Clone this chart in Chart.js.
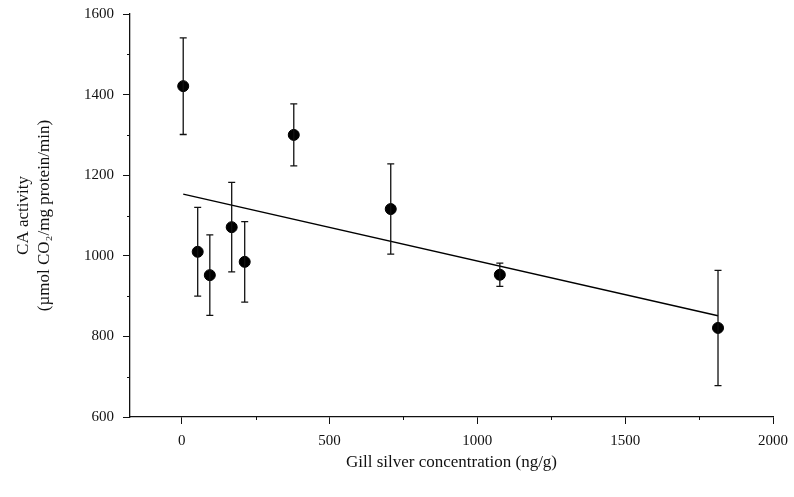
<!DOCTYPE html>
<html>
<head>
<meta charset="utf-8">
<script src="https://cdn.jsdelivr.net/npm/chart.js@4"></script>
<style>
  html, body { margin: 0; padding: 0; background: #fff; }
  #wrap { width: 794px; height: 497px; }
</style>
</head>
<body>
<div id="wrap"><canvas id="caChart" width="794" height="497"></canvas></div>
<script>
// gill silver (ng/g) vs CA activity, mean +/- error
const silverConc = [5, 54, 95, 169, 213, 379, 707, 1076, 1814];
const caActivity = [1421, 1010, 952, 1071, 985, 1300, 1116, 953, 821];
const caError = [120, 110, 100, 111, 100, 77, 112, 29, 143];

// regression line end points
const fitX = [5, 1814];
const fitY = [1153, 851];

const xTicks = [0, 500, 1000, 1500, 2000];
const yTicks = [600, 800, 1000, 1200, 1400, 1600];

const serif = "'Liberation Serif', 'DejaVu Serif', serif";

// error bars with caps
const errorBars = {
    id: 'errorBars',
    afterDatasetsDraw(chart) {
        const ctx = chart.ctx;
        const xs = chart.scales.x, ys = chart.scales.y;
        ctx.save();
        ctx.strokeStyle = '#111';
        ctx.lineWidth = 1.3;
        silverConc.forEach((v, i) => {
            const px = xs.getPixelForValue(v);
            const top = ys.getPixelForValue(caActivity[i] + caError[i]);
            const bot = ys.getPixelForValue(caActivity[i] - caError[i]);
            ctx.beginPath();
            ctx.moveTo(px, top); ctx.lineTo(px, bot);
            ctx.moveTo(px - 3.5, top); ctx.lineTo(px + 3.5, top);
            ctx.moveTo(px - 3.5, bot); ctx.lineTo(px + 3.5, bot);
            ctx.stroke();
        });
        ctx.restore();
    }
};

// small minor ticks between the labelled ones
const minorTicks = {
    id: 'minorTicks',
    afterDraw(chart) {
        const ctx = chart.ctx;
        const xs = chart.scales.x, ys = chart.scales.y;
        const area = chart.chartArea;
        ctx.save();
        ctx.strokeStyle = '#111';
        ctx.lineWidth = 1;
        ctx.beginPath();
        for (let v = 250; v < 2000; v += 500) {
            const px = Math.round(xs.getPixelForValue(v)) + 0.5;
            ctx.moveTo(px, area.bottom); ctx.lineTo(px, area.bottom + 3);
        }
        for (let v = 700; v < 1600; v += 200) {
            const py = Math.round(ys.getPixelForValue(v)) + 0.5;
            ctx.moveTo(area.left, py); ctx.lineTo(area.left - 3, py);
        }
        ctx.stroke();
        ctx.restore();
    }
};

const ctx = document.getElementById('caChart');
new Chart(ctx, {
    type: 'scatter',
    data: {
        datasets: [
            {
                label: 'CA activity',
                data: silverConc.map((x, i) => ({ x: x, y: caActivity[i] })),
                backgroundColor: '#000',
                borderColor: '#000',
                pointRadius: 5.5,
                pointHoverRadius: 5.5,
                order: 0
            },
            {
                type: 'line',
                label: 'fit',
                data: fitX.map((x, i) => ({ x: x, y: fitY[i] })),
                borderColor: '#000',
                borderWidth: 1.5,
                pointRadius: 0,
                fill: false,
                order: 1
            }
        ]
    },
    options: {
        responsive: false,
        animation: false,
        layout: { padding: { top: 14, right: 21, left: 9, bottom: 0 } },
        plugins: {
            legend: { display: false },
            tooltip: { enabled: false }
        },
        scales: {
            x: {
                type: 'linear',
                min: -175,
                max: 2000,
                afterBuildTicks: (scale) => {
                    scale.ticks = xTicks.map(v => ({ value: v }));
                },
                afterFit: (scale) => {
                    scale.height = 80;
                    scale.paddingLeft = 0;
                    scale.paddingRight = 0;
                },
                grid: { drawOnChartArea: false, tickLength: 7, color: '#111', tickColor: '#111' },
                border: { color: '#111', width: 1.3 },
                ticks: {
                    color: '#111',
                    padding: 8,
                    maxRotation: 0,
                    callback: (v) => String(v),
                    font: { family: serif, size: 15 }
                },
                title: {
                    display: true,
                    text: 'Gill silver concentration (ng/g)',
                    color: '#111',
                    padding: { top: 0, bottom: 24 },
                    font: { family: serif, size: 17 }
                }
            },
            y: {
                type: 'linear',
                min: 600,
                max: 1600,
                afterBuildTicks: (scale) => {
                    scale.ticks = yTicks.map(v => ({ value: v }));
                },
                afterFit: (scale) => {
                    scale.width = 121;
                    scale.paddingTop = 0;
                    scale.paddingBottom = 0;
                },
                grid: { drawOnChartArea: false, tickLength: 7, color: '#111', tickColor: '#111' },
                border: { color: '#111', width: 1.3 },
                ticks: {
                    color: '#111',
                    padding: 9,
                    callback: (v) => String(v),
                    font: { family: serif, size: 15 }
                },
                title: {
                    display: true,
                    text: ['CA activity', '(\u00b5mol CO\u2082/mg protein/min)'],
                    color: '#111',
                    padding: { bottom: 4 },
                    font: { family: serif, size: 17, lineHeight: 1.25 }
                }
            }
        }
    },
    plugins: [errorBars, minorTicks]
});
</script>
</body>
</html>
